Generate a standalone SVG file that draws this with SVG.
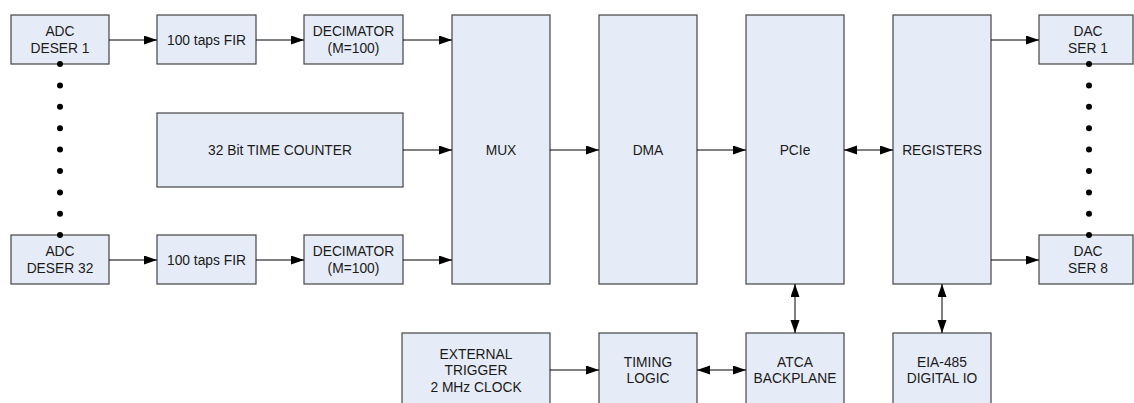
<svg xmlns="http://www.w3.org/2000/svg" width="1134" height="403" viewBox="0 0 1134 403">
  <defs>
    <marker id="ah" markerUnits="userSpaceOnUse" markerWidth="14" markerHeight="10" refX="13" refY="4.5" orient="auto-start-reverse" viewBox="0 0 14 10">
      <path d="M0,0 L13,4.5 L0,9 Z" fill="#000"/>
    </marker>
  </defs>
  <style>
    .box { fill: #e6ecf7; stroke: #444; stroke-width: 1.2; }
    .lbl { font-family: "Liberation Sans", Arial, sans-serif; font-size: 13.8px; fill: #1a1a1a; text-anchor: middle; }
    .conn { stroke: #000; stroke-width: 1; fill: none; }
    .one { marker-end: url(#ah); }
    .two { marker-start: url(#ah); marker-end: url(#ah); }
    .dot { fill: #000; }
  </style>
  <rect width="1134" height="403" fill="#fff"/>

  <g id="adc1"><rect class="box" x="11" y="15" width="98" height="49"/><text class="lbl" x="60" y="36.3">ADC</text><text class="lbl" x="60" y="52.8">DESER 1</text></g>
  <g id="fir1"><rect class="box" x="157" y="15" width="99" height="49"/><text class="lbl" x="206.5" y="44.5">100 taps FIR</text></g>
  <g id="dec1"><rect class="box" x="304" y="15" width="99" height="49"/><text class="lbl" x="353.5" y="36.3">DECIMATOR</text><text class="lbl" x="353.5" y="52.8">(M=100)</text></g>

  <g id="counter"><rect class="box" x="157" y="113" width="246" height="74"/><text class="lbl" x="280" y="155">32 Bit TIME COUNTER</text></g>

  <g id="adc32"><rect class="box" x="11" y="235" width="98" height="49"/><text class="lbl" x="60" y="256.3">ADC</text><text class="lbl" x="60" y="272.8">DESER 32</text></g>
  <g id="fir32"><rect class="box" x="157" y="235" width="99" height="49"/><text class="lbl" x="206.5" y="264.5">100 taps FIR</text></g>
  <g id="dec32"><rect class="box" x="304" y="235" width="99" height="49"/><text class="lbl" x="353.5" y="256.3">DECIMATOR</text><text class="lbl" x="353.5" y="272.8">(M=100)</text></g>

  <g id="mux"><rect class="box" x="452" y="15" width="98" height="269"/><text class="lbl" x="501" y="155">MUX</text></g>
  <g id="dma"><rect class="box" x="599" y="15" width="98" height="269"/><text class="lbl" x="648" y="155">DMA</text></g>
  <g id="pcie"><rect class="box" x="746" y="15" width="98" height="269"/><text class="lbl" x="795" y="155">PCIe</text></g>
  <g id="registers"><rect class="box" x="893" y="15" width="98" height="269"/><text class="lbl" x="942" y="155">REGISTERS</text></g>

  <g id="dac1"><rect class="box" x="1039" y="15" width="94" height="49"/><text class="lbl" x="1088" y="36.3">DAC</text><text class="lbl" x="1088" y="52.8">SER 1</text></g>
  <g id="dac8"><rect class="box" x="1039" y="235" width="94" height="49"/><text class="lbl" x="1088" y="256.3">DAC</text><text class="lbl" x="1088" y="272.8">SER 8</text></g>

  <g id="exttrig"><rect class="box" x="402" y="333" width="148" height="74"/><text class="lbl" x="476" y="358.5">EXTERNAL</text><text class="lbl" x="476" y="375">TRIGGER</text><text class="lbl" x="476" y="391.5">2 MHz CLOCK</text></g>
  <g id="timing"><rect class="box" x="599" y="333" width="98" height="74"/><text class="lbl" x="648" y="366.8">TIMING</text><text class="lbl" x="648" y="383.3">LOGIC</text></g>
  <g id="atca"><rect class="box" x="746" y="333" width="98" height="74"/><text class="lbl" x="795" y="366.8">ATCA</text><text class="lbl" x="795" y="383.3">BACKPLANE</text></g>
  <g id="eia485"><rect class="box" x="893" y="333" width="98" height="74"/><text class="lbl" x="942" y="366.8">EIA-485</text><text class="lbl" x="942" y="383.3">DIGITAL IO</text></g>

  <g id="connectors">
    <line class="conn one" x1="109" y1="40" x2="157" y2="40"/>
    <line class="conn one" x1="256" y1="40" x2="304" y2="40"/>
    <line class="conn one" x1="403" y1="40" x2="452" y2="40"/>
    <line class="conn one" x1="403" y1="150" x2="452" y2="150"/>
    <line class="conn one" x1="109" y1="260" x2="157" y2="260"/>
    <line class="conn one" x1="256" y1="260" x2="304" y2="260"/>
    <line class="conn one" x1="403" y1="260" x2="452" y2="260"/>
    <line class="conn one" x1="550" y1="150" x2="599" y2="150"/>
    <line class="conn one" x1="697" y1="150" x2="746" y2="150"/>
    <line class="conn two" x1="844" y1="150" x2="893" y2="150"/>
    <line class="conn one" x1="991" y1="40" x2="1039" y2="40"/>
    <line class="conn one" x1="991" y1="260" x2="1039" y2="260"/>
    <line class="conn two" x1="795" y1="284" x2="795" y2="333"/>
    <line class="conn two" x1="942" y1="284" x2="942" y2="333"/>
    <line class="conn one" x1="550" y1="370" x2="599" y2="370"/>
    <line class="conn two" x1="697" y1="370" x2="746" y2="370"/>
  </g>

  <g id="dots-adc">
    <circle class="dot" cx="60" cy="64" r="3"/><circle class="dot" cx="60" cy="85.4" r="3"/><circle class="dot" cx="60" cy="106.8" r="3"/><circle class="dot" cx="60" cy="128.2" r="3"/><circle class="dot" cx="60" cy="149.6" r="3"/><circle class="dot" cx="60" cy="171" r="3"/><circle class="dot" cx="60" cy="192.4" r="3"/><circle class="dot" cx="60" cy="213.8" r="3"/><circle class="dot" cx="60" cy="235" r="3"/>
  </g>
  <g id="dots-dac">
    <circle class="dot" cx="1089" cy="64" r="3"/><circle class="dot" cx="1089" cy="85.4" r="3"/><circle class="dot" cx="1089" cy="106.8" r="3"/><circle class="dot" cx="1089" cy="128.2" r="3"/><circle class="dot" cx="1089" cy="149.6" r="3"/><circle class="dot" cx="1089" cy="171" r="3"/><circle class="dot" cx="1089" cy="192.4" r="3"/><circle class="dot" cx="1089" cy="213.8" r="3"/><circle class="dot" cx="1089" cy="235" r="3"/>
  </g>
</svg>
